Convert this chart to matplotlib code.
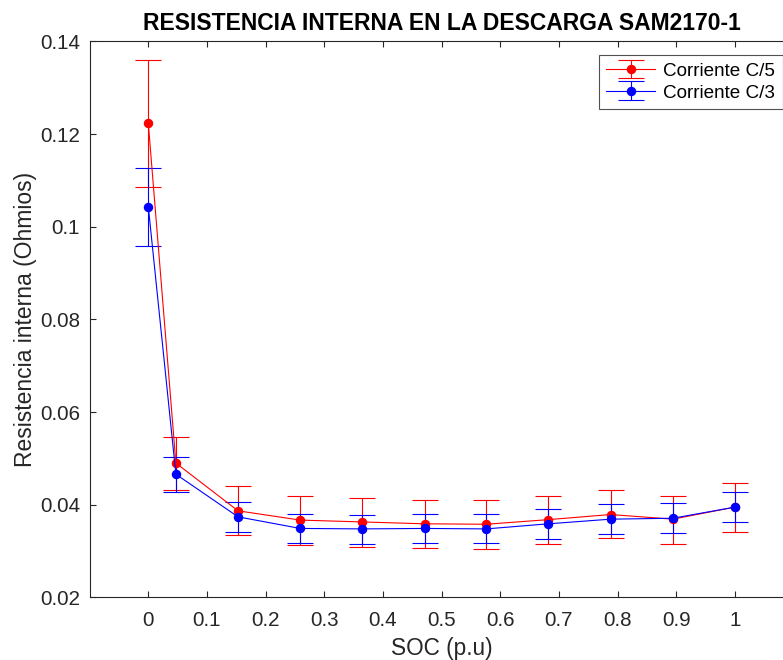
import matplotlib
matplotlib.use("Agg")
import matplotlib.pyplot as plt
import numpy as np

# SOC positions of the measurements
soc = [0, 0.047, 0.153, 0.259, 0.365, 0.471, 0.576, 0.682, 0.788, 0.894, 1.0]

# Corriente C/5 (red): value, upper and lower end of the error bar
r_c5 = [0.1223, 0.0490, 0.0387, 0.0367, 0.0363, 0.0359, 0.0358, 0.0368, 0.0379, 0.0369, 0.0395]
r_c5_hi = [0.1360, 0.0547, 0.0441, 0.0419, 0.0415, 0.0411, 0.0410, 0.0420, 0.0431, 0.0420, 0.0446]
r_c5_lo = [0.1086, 0.0433, 0.0335, 0.0313, 0.0310, 0.0306, 0.0305, 0.0315, 0.0328, 0.0316, 0.0342]

# Corriente C/3 (blue)
r_c3 = [0.1043, 0.0466, 0.0374, 0.0349, 0.0348, 0.0349, 0.0348, 0.0359, 0.0369, 0.0371, 0.0395]
r_c3_hi = [0.1127, 0.0504, 0.0405, 0.0381, 0.0379, 0.0380, 0.0380, 0.0392, 0.0402, 0.0403, 0.0428]
r_c3_lo = [0.0959, 0.0427, 0.0342, 0.0317, 0.0315, 0.0318, 0.0317, 0.0326, 0.0338, 0.0340, 0.0362]

xticks = [0, 0.1, 0.2, 0.3, 0.4, 0.5, 0.6, 0.7, 0.8, 0.9, 1]
yticks = [0.02, 0.04, 0.06, 0.08, 0.1, 0.12, 0.14]

plt.rcParams['font.family'] = ['Liberation Sans', 'DejaVu Sans']


def yerr(v, hi, lo):
    v, hi, lo = np.array(v), np.array(hi), np.array(lo)
    return [v - lo, hi - v]


fig = plt.figure(figsize=(7.83, 6.6), dpi=100)
# axes runs past the right edge of the figure like the original export
ax = fig.add_axes([0.1145, 0.0947, 0.899, 0.8427])

ax.errorbar(soc, r_c5, yerr=yerr(r_c5, r_c5_hi, r_c5_lo), color='red',
            marker='o', markersize=5.8, linewidth=0.8, elinewidth=0.8,
            capsize=9.4, capthick=0.8, label='Corriente C/5')
ax.errorbar(soc, r_c3, yerr=yerr(r_c3, r_c3_hi, r_c3_lo), color='blue',
            marker='o', markersize=5.8, linewidth=0.8, elinewidth=0.8,
            capsize=9.4, capthick=0.8, label='Corriente C/3')

ax.set_xlim(-0.1, 1.1)
ax.set_ylim(0.02, 0.14)
ax.set_xticks(xticks)
ax.set_xticklabels(['%g' % t for t in xticks])
ax.set_yticks(yticks)
ax.set_yticklabels(['%g' % t for t in yticks])

for s in ax.spines.values():
    s.set_color('#262626')
    s.set_linewidth(0.8)
ax.tick_params(direction='in', length=4, width=0.8, colors='#262626',
               labelsize=14.8, top=True, right=True)
ax.tick_params(axis='x', pad=10)
ax.tick_params(axis='y', pad=7)

ax.set_xlabel('SOC (p.u)', fontsize=16.3, color='#262626', labelpad=5)
ax.set_ylabel('Resistencia interna (Ohmios)', fontsize=16.5, color='#262626', labelpad=2)
ax.set_title('RESISTENCIA INTERNA EN LA DESCARGA SAM2170-1', fontsize=16.5,
             fontweight='bold', pad=8)

leg = fig.legend(loc='upper right', bbox_to_anchor=(0.9995, 0.917), fontsize=13.6,
                 frameon=True, fancybox=False, edgecolor='#262626',
                 borderpad=0.4, handlelength=2.6, handletextpad=0.4,
                 labelspacing=0.25, borderaxespad=0)
leg.get_frame().set_linewidth(0.8)

fig.savefig('out.png', dpi=100)
